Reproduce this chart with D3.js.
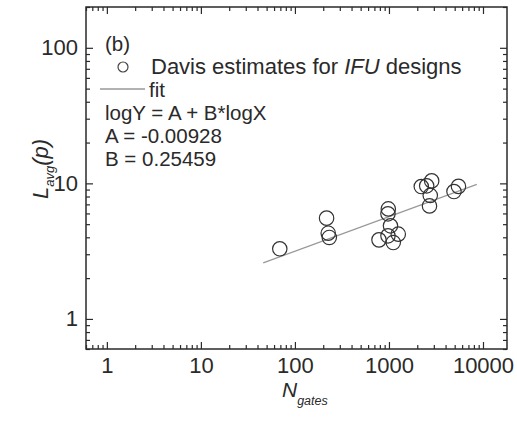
<!DOCTYPE html>
<html>
<head>
<meta charset="utf-8">
<script src="https://cdn.jsdelivr.net/npm/d3@7"></script>
<style>
  body { margin: 0; background: #fff; }
  svg { display: block; font-family: "Liberation Sans", Arial, sans-serif; }
</style>
</head>
<body>
<svg id="chart" width="517" height="421"></svg>
<script>
// Davis estimates (N_gates, L_avg(p))
const nGates = [69, 217, 226, 232, 783, 984, 976, 1038, 976, 1256, 1111,
                2207, 2518, 2846, 2749, 2698, 4914, 5486];
const lAvg = [3.29, 5.54, 4.29, 3.99, 3.83, 6.48, 5.96, 4.86, 4.10, 4.22, 3.66,
              9.47, 9.59, 10.43, 8.15, 6.82, 8.70, 9.50];

// fit line end points
const fitX = [46, 8600];
const fitY = [2.59, 9.83];

const xTicks = [1, 10, 100, 1000, 10000];
const yTicks = [1, 10, 100];

const fitText = ["logY = A + B*logX", "A = -0.00928", "B = 0.25459"];

const svg = d3.select('#chart');
const margin = {top: 7, right: 10, bottom: 72, left: 86};
const width = 517 - margin.left - margin.right;
const height = 421 - margin.top - margin.bottom;
const ink = '#2a2a2a';

const chart = svg.append('g')
    .attr('transform', `translate(${margin.left},${margin.top})`);

const x = d3.scaleLog().domain([0.6, 18000]).range([0, width]);
const y = d3.scaleLog().domain([0.6, 200]).range([height, 0]);

// minor + major ticks on all four sides, pointing in
function addAxis(axisFn, scale, transform, major, labels) {
    const g = chart.append('g').attr('transform', transform);
    const minor = scale.ticks().filter(v => !major.includes(v));
    g.append('g').call(axisFn(scale).tickValues(minor).tickSize(-4).tickFormat(''));
    g.append('g').call(axisFn(scale).tickValues(major).tickSize(-7).tickPadding(labels ? 8 : 0)
        .tickFormat(labels ? d3.format('d') : ''));
    g.selectAll('.domain').remove();
    g.selectAll('line').attr('stroke', ink).attr('stroke-width', 1.2);
    g.selectAll('text').attr('font-size', 22).attr('fill', ink);
    return g;
}
addAxis(d3.axisBottom, x, `translate(0,${height})`, xTicks, true);
addAxis(d3.axisTop, x, 'translate(0,0)', xTicks, false);
addAxis(d3.axisLeft, y, 'translate(0,0)', yTicks, true);
addAxis(d3.axisRight, y, `translate(${width},0)`, yTicks, false);

// frame
chart.append('rect')
    .attr('width', width).attr('height', height)
    .attr('fill', 'none').attr('stroke', ink).attr('stroke-width', 1.5);

// fit line
chart.append('path')
    .datum(fitX.map((d, i) => [d, fitY[i]]))
    .attr('d', d3.line().x(d => x(d[0])).y(d => y(d[1])))
    .attr('fill', 'none').attr('stroke', '#999').attr('stroke-width', 1.3);

// points
chart.selectAll('.pt')
    .data(nGates.map((d, i) => [d, lAvg[i]]))
    .enter().append('circle')
        .attr('class', 'pt')
        .attr('cx', d => x(d[0]))
        .attr('cy', d => y(d[1]))
        .attr('r', 7.2)
        .attr('fill', 'none')
        .attr('stroke', '#333')
        .attr('stroke-width', 1.2);

// legend / annotation
const ann = svg.append('g').attr('fill', ink).attr('font-size', 20.5);
ann.append('text').attr('x', 105).attr('y', 51).text('(b)');
ann.append('circle').attr('cx', 123).attr('cy', 67).attr('r', 5)
    .attr('fill', 'none').attr('stroke', '#444').attr('stroke-width', 1.2);
const lg = ann.append('text').attr('x', 151).attr('y', 73.5).attr('font-size', 22);
lg.append('tspan').text('Davis estimates for ');
lg.append('tspan').attr('font-style', 'italic').text('IFU');
lg.append('tspan').text(' designs');
ann.append('line').attr('x1', 100).attr('x2', 145).attr('y1', 89).attr('y2', 89)
    .attr('stroke', '#999').attr('stroke-width', 1.3);
ann.append('text').attr('x', 149).attr('y', 97).text('fit');
fitText.forEach((t, i) => {
    ann.append('text').attr('x', 105).attr('y', 120 + i * 23).text(t);
});

// axis titles
const yt = svg.append('text')
    .attr('transform', 'translate(48,199) rotate(-90)')
    .attr('fill', ink).attr('font-style', 'italic').attr('font-size', 22);
yt.append('tspan').text('L');
yt.append('tspan').attr('font-size', 13).attr('dy', 6).text('avg');
yt.append('tspan').attr('dy', -6).text('(p)');

const xt = svg.append('text')
    .attr('x', 282).attr('y', 397)
    .attr('fill', ink).attr('font-style', 'italic').attr('font-size', 21);
xt.append('tspan').text('N');
xt.append('tspan').attr('font-size', 12.5).attr('dy', 8).text('gates');
</script>
</body>
</html>
